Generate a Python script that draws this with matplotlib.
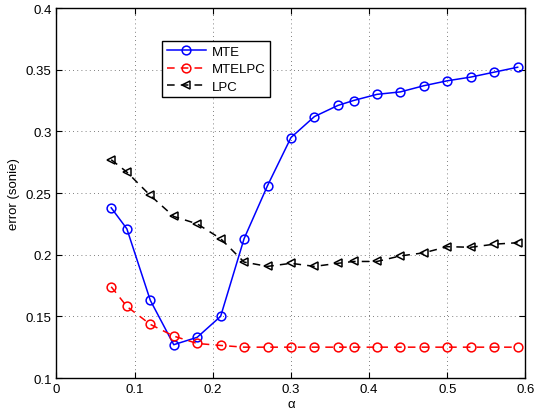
import numpy as np
import matplotlib
matplotlib.use('Agg')
import matplotlib.pyplot as plt

plt.rcParams['font.family'] = ['Liberation Sans', 'DejaVu Sans']

alpha = [0.07, 0.09, 0.12, 0.15, 0.18, 0.21, 0.24, 0.27, 0.30, 0.33,
         0.36, 0.38, 0.41, 0.44, 0.47, 0.50, 0.53, 0.56, 0.59]

mte = [0.238, 0.221, 0.163, 0.127, 0.133, 0.150, 0.213, 0.256, 0.295, 0.312,
       0.321, 0.325, 0.330, 0.332, 0.337, 0.341, 0.344, 0.348, 0.352]

mtelpc = [0.174, 0.158, 0.1435, 0.134, 0.128, 0.1264, 0.125, 0.125, 0.125, 0.125,
          0.125, 0.125, 0.125, 0.125, 0.125, 0.125, 0.125, 0.125, 0.125]

lpc = [0.277, 0.267, 0.248, 0.231, 0.225, 0.213, 0.194, 0.1905, 0.193, 0.1905,
       0.193, 0.1945, 0.1945, 0.199, 0.2015, 0.2065, 0.206, 0.2085, 0.2097]

fig = plt.figure(figsize=(5.35, 4.1), dpi=100)
ax = fig.add_axes([0.1056, 0.0756, 0.8766, 0.9024])

ax.plot(alpha, mte, '-o', color='#0000ff', mfc='none', ms=6.3, mew=1.1, lw=1.1, label='MTE')
ax.plot(alpha, mtelpc, '--o', color='#ff0000', mfc='none', ms=6.3, mew=1.1, lw=1.1,
        dashes=(5, 4), label='MTELPC')
ax.plot(alpha, lpc, '--<', color='black', mfc='none', ms=6.3, mew=1.1, lw=1.1,
        dashes=(5, 4), label='LPC')

ax.set_xlim(0, 0.6)
ax.set_ylim(0.1, 0.4)
ax.set_xticks(np.arange(0, 0.61, 0.1))
ax.set_xticklabels(['0', '0.1', '0.2', '0.3', '0.4', '0.5', '0.6'])
ax.set_yticks(np.arange(0.1, 0.401, 0.05))
ax.set_yticklabels(['0.1', '0.15', '0.2', '0.25', '0.3', '0.35', '0.4'])
ax.grid(True, linestyle=(0, (1, 4)), color='#555555', lw=0.6)
ax.tick_params(direction='in', top=True, right=True, labelsize=9.5, length=4, width=0.8)
for s in ax.spines.values():
    s.set_linewidth(1.0)

ax.set_xlabel('α', fontsize=9.5, labelpad=2)
ax.set_ylabel('error (sonie)', fontsize=9.5, labelpad=4)

leg = ax.legend(loc='upper left', bbox_to_anchor=(0.225, 0.911), fontsize=9.5,
                fancybox=False, framealpha=1, edgecolor='black', handlelength=3,
                borderpad=0.35, labelspacing=0.4, handletextpad=0.4, borderaxespad=0)
leg.get_frame().set_linewidth(1.0)

fig.savefig('out.png', dpi=100)
